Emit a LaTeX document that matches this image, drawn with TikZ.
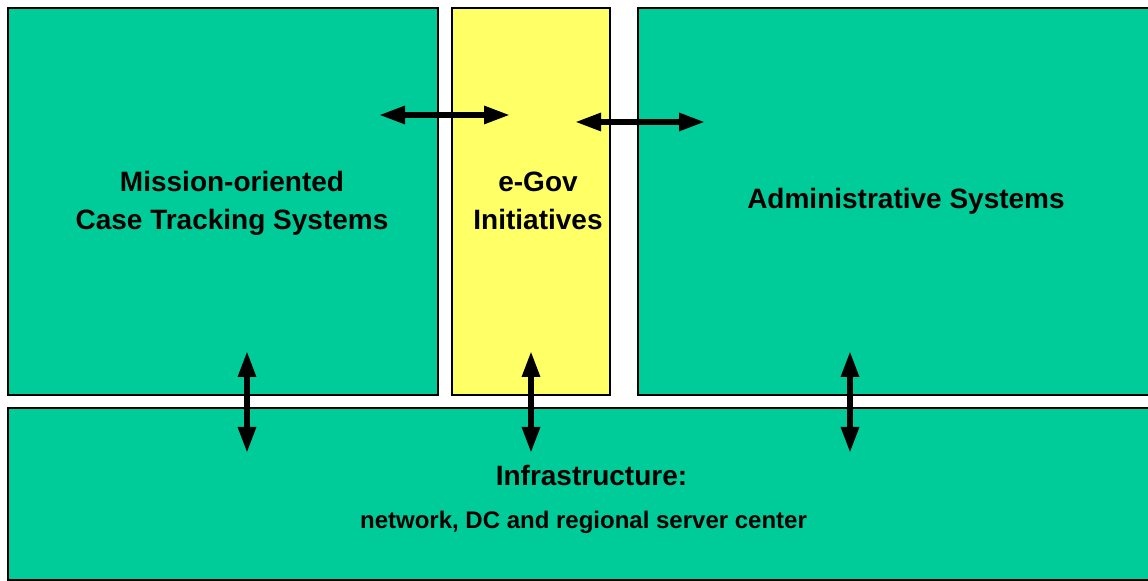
\documentclass[tikz,border=0pt]{standalone}
\usepackage{fontspec}
\setmainfont{Liberation Sans}
\usetikzlibrary{arrows.meta}
\definecolor{sysgreen}{RGB}{0,204,153}
\definecolor{govyellow}{RGB}{255,255,102}

\begin{document}
\begin{tikzpicture}[
    x=0.5pt,
    y=-0.5pt,
    every node/.style={font=\bfseries},
    box/.style={draw=black, line width=0.8pt, inner sep=0pt},
    system/.style={box, fill=sysgreen},
    egov/.style={box, fill=govyellow},
    title/.style={anchor=base, align=center,
        font=\bfseries\fontsize{14}{19}\selectfont},
    subtitle/.style={anchor=base, font=\bfseries\fontsize{12}{14}\selectfont},
    link/.style={{Triangle[length=13pt,width=8.5pt]}-{Triangle[length=13pt,width=8.5pt]},
        line width=2.9pt, draw=black}
]
    \clip (0,0) rectangle (1148,581);

    % the four blocks
    \node[system, minimum width=215pt, minimum height=193.5pt] (mission) at (223,201.5) {};
    \node[egov, minimum width=79pt, minimum height=193.5pt] (egov) at (531,201.5) {};
    \node[system, minimum width=257pt, minimum height=193.5pt] (admin) at (895,201.5) {};
    \node[system, minimum width=572pt, minimum height=86pt] (infra) at (580,494) {};

    % base of a two-line title sits on its last line
    \node[title] (missiontxt) at (232,230) {Mission-oriented\\Case Tracking Systems};
    \node[title] (egovtxt) at (538,230) {e-Gov\\Initiatives};
    \node[title] (admintxt) at (906,209) {Administrative Systems};
    \node[title] (infratxt) at (591.5,486) {Infrastructure:};
    \node[subtitle] (infrasub) at (583.5,529) {network, DC and regional server center};

    % arrow ends
    \coordinate (m1) at (379,115);
    \coordinate (e1) at (510,115);
    \coordinate (e2) at (575,122);
    \coordinate (a1) at (705,122);
    \coordinate (mUp) at (247,351);
    \coordinate (mDn) at (247,453);
    \coordinate (eUp) at (531,351);
    \coordinate (eDn) at (531,453);
    \coordinate (aUp) at (850,351);
    \coordinate (aDn) at (850,453);

    \draw[link] (m1) -- (e1);
    \draw[link] (e2) -- (a1);
    \draw[link] (mUp) -- (mDn);
    \draw[link] (eUp) -- (eDn);
    \draw[link] (aUp) -- (aDn);
\end{tikzpicture}
\end{document}
